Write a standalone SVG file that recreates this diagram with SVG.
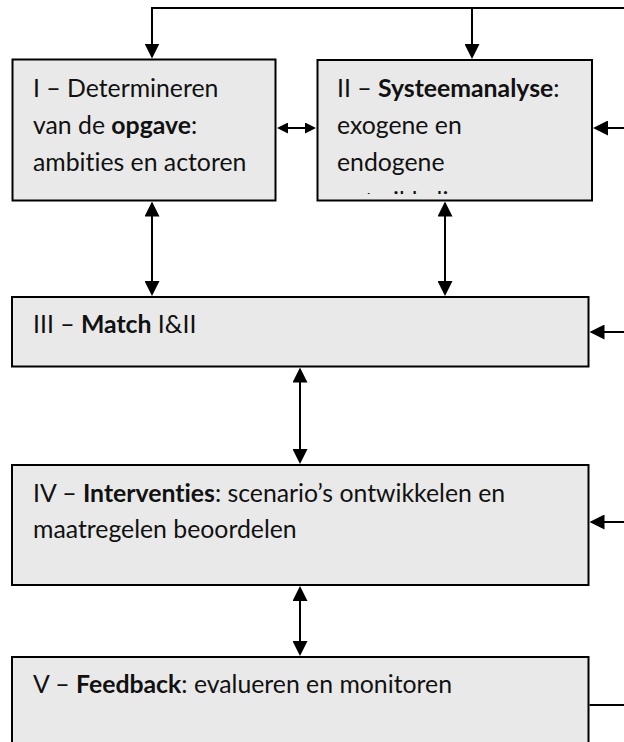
<svg xmlns="http://www.w3.org/2000/svg" width="624" height="742" viewBox="0 0 624 742">
<style>
.box{fill:#e9e9e9;stroke:#000;stroke-width:2}
.t{font-family:Lato,"Liberation Sans",sans-serif;font-size:24.8px;fill:#111;font-variant-ligatures:none}
.b{font-weight:bold}
.c{fill:none;stroke:#000;stroke-width:2}
</style>
<defs>
<marker id="ah" markerUnits="userSpaceOnUse" markerWidth="15" markerHeight="15" refX="13" refY="7.5" orient="auto-start-reverse"><path d="M0,0 L15,7.5 L0,15 z" fill="#000"/></marker>
<marker id="ahs" markerUnits="userSpaceOnUse" markerWidth="11" markerHeight="11" refX="9" refY="5.5" orient="auto-start-reverse"><path d="M0,0 L11,5.5 L0,11 z" fill="#000"/></marker>
<clipPath id="clipII"><rect x="318" y="61" width="273" height="133"/></clipPath>
</defs>
<g id="node-I">
<rect class="box" x="12.5" y="59.5" width="263" height="141"/>
<text class="t" x="33" y="97">I – Determineren</text>
<text class="t" x="33" y="134">van de <tspan class="b">opgave</tspan>:</text>
<text class="t" x="33" y="171">ambities en actoren</text>
</g>
<g id="node-II">
<rect class="box" x="317.5" y="60" width="274.5" height="140.5"/>
<g clip-path="url(#clipII)">
<text class="t" x="337" y="97">II – <tspan class="b">Systeemanalyse</tspan>:</text>
<text class="t" x="337" y="134">exogene en</text>
<text class="t" x="337" y="171">endogene</text>
<text class="t" x="337" y="209.5">ontwikkelingen</text>
</g>
</g>
<g id="node-III">
<rect class="box" x="12" y="297" width="576.5" height="69.5"/>
<text class="t" x="33" y="333">III – <tspan class="b">Match</tspan> I&amp;II</text>
</g>
<g id="node-IV">
<rect class="box" x="12" y="465" width="576.5" height="120"/>
<text class="t" x="33" y="502">IV – <tspan class="b">Interventies</tspan>: scenario’s ontwikkelen en</text>
<text class="t" x="33" y="538">maatregelen beoordelen</text>
</g>
<g id="node-V">
<rect class="box" x="12" y="657" width="576.5" height="100"/>
<text class="t" x="33" y="693">V – <tspan class="b">Feedback</tspan>: evalueren en monitoren</text>
</g>
<g id="connectors">
<path class="c" d="M624,8 H152 V56.5" marker-end="url(#ah)"/>
<path class="c" d="M472,8 V57" marker-end="url(#ah)"/>
<path class="c" d="M279,128 H314" marker-start="url(#ahs)" marker-end="url(#ahs)"/>
<path class="c" d="M624,128 H595" marker-end="url(#ah)"/>
<path class="c" d="M152,203.5 V294" marker-start="url(#ah)" marker-end="url(#ah)"/>
<path class="c" d="M445,203.5 V294" marker-start="url(#ah)" marker-end="url(#ah)"/>
<path class="c" d="M624,332 H591.5" marker-end="url(#ah)"/>
<path class="c" d="M300,369.5 V462" marker-start="url(#ah)" marker-end="url(#ah)"/>
<path class="c" d="M624,522 H591.5" marker-end="url(#ah)"/>
<path class="c" d="M300,588 V654" marker-start="url(#ah)" marker-end="url(#ah)"/>
<path class="c" d="M589.5,705 H624"/>
</g>
</svg>
